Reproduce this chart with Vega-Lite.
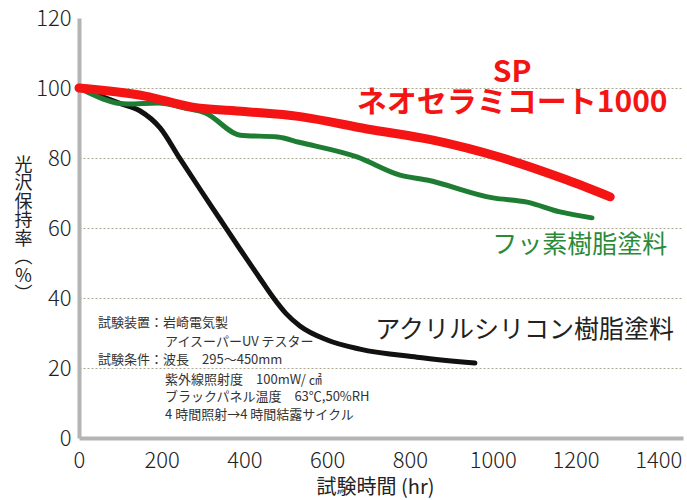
{
  "$schema": "https://vega.github.io/schema/vega-lite/v6.json",
  "autosize": "none",
  "width": 604,
  "height": 420,
  "padding": {"left": 79, "top": 18, "right": 4, "bottom": 62},
  "background": "#ffffff",
  "config": {"view": {"stroke": null}, "font": "Noto Sans CJK JP"},
  "encoding": {
    "x": {
      "field": "hr", "type": "quantitative",
      "scale": {"domain": [0, 1460], "nice": false, "zero": false},
      "axis": {
        "values": [0, 200, 400, 600, 800, 1000, 1200, 1400],
        "format": "d",
        "title": "試験時間 (hr)",
        "titleFont": "Noto Sans CJK JP", "titleFontSize": 20, "titleFontWeight": "normal", "titleColor": "#222",
        "titlePadding": 6, "titleX": 296,
        "labelFont": "Noto Sans CJK JP", "labelFontSize": 22, "labelFontWeight": 300, "labelColor": "#222",
        "labelPadding": 12, "labelFlush": false,
        "domainColor": "#b4b4b4", "domainWidth": 4,
        "ticks": false,
        "grid": false
      }
    },
    "y": {
      "field": "gloss", "type": "quantitative",
      "scale": {"domain": [0, 120], "nice": false},
      "axis": {
        "values": [0, 20, 40, 60, 80, 100, 120],
        "title": ["光", "沢", "保", "持", "率", "︵", "%", "︶"],
        "titleAngle": 0, "titleAlign": "center", "titleBaseline": "top",
        "titleX": -56, "titleY": 138, "titleLineHeight": 18.5,
        "titleFont": "Noto Sans CJK JP", "titleFontSize": 18, "titleFontWeight": "normal", "titleColor": "#222",
        "labelFont": "Noto Sans CJK JP", "labelFontSize": 22, "labelFontWeight": 300, "labelColor": "#222",
        "labelPadding": 8,
        "ticks": false,
        "domainColor": "#b4b4b4", "domainWidth": 4,
        "grid": true, "gridColor": "#a8a890", "gridDash": [2, 2], "gridWidth": 1,
        "gridOpacity": {"condition": {"test": "datum.value === 0 || datum.value === 120", "value": 0}, "value": 1}
      }
    }
  },
  "layer": [
    {
      "data": {"values": [
        {"hr": 200}, {"hr": 400}, {"hr": 600}, {"hr": 800}, {"hr": 1000}, {"hr": 1200}, {"hr": 1400}
      ]},
      "mark": {"type": "rule", "color": "#9a9a7a", "strokeWidth": 1, "strokeDash": [2, 1]},
      "encoding": {
        "x": {"field": "hr", "type": "quantitative"},
        "y": {"datum": 0},
        "y2": {"datum": 2.6}
      }
    },
    {
      "data": {"values": [
        {"series": "アクリルシリコン樹脂塗料", "hr": 0, "gloss": 100},
        {"series": "アクリルシリコン樹脂塗料", "hr": 99, "gloss": 95.6},
        {"series": "アクリルシリコン樹脂塗料", "hr": 147, "gloss": 93.5},
        {"series": "アクリルシリコン樹脂塗料", "hr": 196, "gloss": 88.6},
        {"series": "アクリルシリコン樹脂塗料", "hr": 244, "gloss": 79.8},
        {"series": "アクリルシリコン樹脂塗料", "hr": 293, "gloss": 71},
        {"series": "アクリルシリコン樹脂塗料", "hr": 341, "gloss": 62.5},
        {"series": "アクリルシリコン樹脂塗料", "hr": 389, "gloss": 54},
        {"series": "アクリルシリコン樹脂塗料", "hr": 438, "gloss": 45.5},
        {"series": "アクリルシリコン樹脂塗料", "hr": 469, "gloss": 40.2},
        {"series": "アクリルシリコン樹脂塗料", "hr": 500, "gloss": 35.6},
        {"series": "アクリルシリコン樹脂塗料", "hr": 534, "gloss": 32},
        {"series": "アクリルシリコン樹脂塗料", "hr": 600, "gloss": 28},
        {"series": "アクリルシリコン樹脂塗料", "hr": 679, "gloss": 25.4},
        {"series": "アクリルシリコン樹脂塗料", "hr": 817, "gloss": 23.1},
        {"series": "アクリルシリコン樹脂塗料", "hr": 957, "gloss": 21.4}
      ]},
      "mark": {"type": "line", "color": "#111111", "strokeWidth": 5, "strokeCap": "round", "interpolate": "monotone"}
    },
    {
      "data": {"values": [
        {"series": "フッ素樹脂塗料", "hr": 0, "gloss": 100},
        {"series": "フッ素樹脂塗料", "hr": 118, "gloss": 95.4},
        {"series": "フッ素樹脂塗料", "hr": 191, "gloss": 95.7},
        {"series": "フッ素樹脂塗料", "hr": 256, "gloss": 94.3},
        {"series": "フッ素樹脂塗料", "hr": 305, "gloss": 92.9},
        {"series": "フッ素樹脂塗料", "hr": 390, "gloss": 86.5},
        {"series": "フッ素樹脂塗料", "hr": 480, "gloss": 86},
        {"series": "フッ素樹脂塗料", "hr": 532, "gloss": 84.5},
        {"series": "フッ素樹脂塗料", "hr": 672, "gloss": 80.3},
        {"series": "フッ素樹脂塗料", "hr": 776, "gloss": 75.1},
        {"series": "フッ素樹脂塗料", "hr": 841, "gloss": 73.7},
        {"series": "フッ素樹脂塗料", "hr": 1001, "gloss": 68.6},
        {"series": "フッ素樹脂塗料", "hr": 1083, "gloss": 67.4},
        {"series": "フッ素樹脂塗料", "hr": 1163, "gloss": 64.6},
        {"series": "フッ素樹脂塗料", "hr": 1240, "gloss": 62.9}
      ]},
      "mark": {"type": "line", "color": "#1e7d32", "strokeWidth": 5, "strokeCap": "round", "interpolate": "monotone"}
    },
    {
      "data": {"values": [
        {"series": "SP ネオセラミコート1000", "hr": 0, "gloss": 100},
        {"series": "SP ネオセラミコート1000", "hr": 160, "gloss": 97.7},
        {"series": "SP ネオセラミコート1000", "hr": 271, "gloss": 94.6},
        {"series": "SP ネオセラミコート1000", "hr": 400, "gloss": 93.3},
        {"series": "SP ネオセラミコート1000", "hr": 530, "gloss": 91.9},
        {"series": "SP ネオセラミコート1000", "hr": 696, "gloss": 88.3},
        {"series": "SP ネオセラミコート1000", "hr": 856, "gloss": 85.1},
        {"series": "SP ネオセラミコート1000", "hr": 1018, "gloss": 80.2},
        {"series": "SP ネオセラミコート1000", "hr": 1180, "gloss": 73.7},
        {"series": "SP ネオセラミコート1000", "hr": 1284, "gloss": 68.9}
      ]},
      "mark": {"type": "line", "color": "#f41414", "strokeWidth": 9, "strokeCap": "round", "interpolate": "monotone"}
    },
    {
      "data": {"values": [
        {"label": "SP", "hr": 1047, "gloss": 104.3},
        {"label": "ネオセラミコート1000", "hr": 1047, "gloss": 95.7}
      ]},
      "mark": {"type": "text", "color": "#f41414", "fontSize": 30, "fontWeight": "bold", "align": "center", "baseline": "middle", "font": "Noto Sans CJK JP"},
      "encoding": {"text": {"field": "label"}}
    },
    {
      "data": {"values": [
        {"label": "フッ素樹脂塗料", "hr": 999, "gloss": 55.1}
      ]},
      "mark": {"type": "text", "color": "#2a8a38", "fontSize": 25, "align": "left", "baseline": "middle", "font": "Noto Sans CJK JP"},
      "encoding": {"text": {"field": "label"}}
    },
    {
      "data": {"values": [
        {"label": "アクリルシリコン樹脂塗料", "hr": 716, "gloss": 30.9}
      ]},
      "mark": {"type": "text", "color": "#222222", "fontSize": 25, "align": "left", "baseline": "middle", "font": "Noto Sans CJK JP"},
      "encoding": {"text": {"field": "label"}}
    },
    {
      "data": {"values": [
        {"label": "試験装置：岩崎電気製", "hr": 46, "gloss": 32.9},
        {"label": "アイスーパーUV テスター", "hr": 208, "gloss": 27.4},
        {"label": "試験条件：波長　295～450mm", "hr": 46, "gloss": 22.2},
        {"label": "紫外線照射度　100mW/ ㎠", "hr": 208, "gloss": 16.6},
        {"label": "ブラックパネル温度　63℃,50%RH", "hr": 208, "gloss": 11.7},
        {"label": "4 時間照射→4 時間結露サイクル", "hr": 208, "gloss": 6.6}
      ]},
      "mark": {"type": "text", "color": "#333333", "fontSize": 13, "align": "left", "baseline": "middle", "font": "Noto Sans CJK JP"},
      "encoding": {"text": {"field": "label"}}
    }
  ]
}
